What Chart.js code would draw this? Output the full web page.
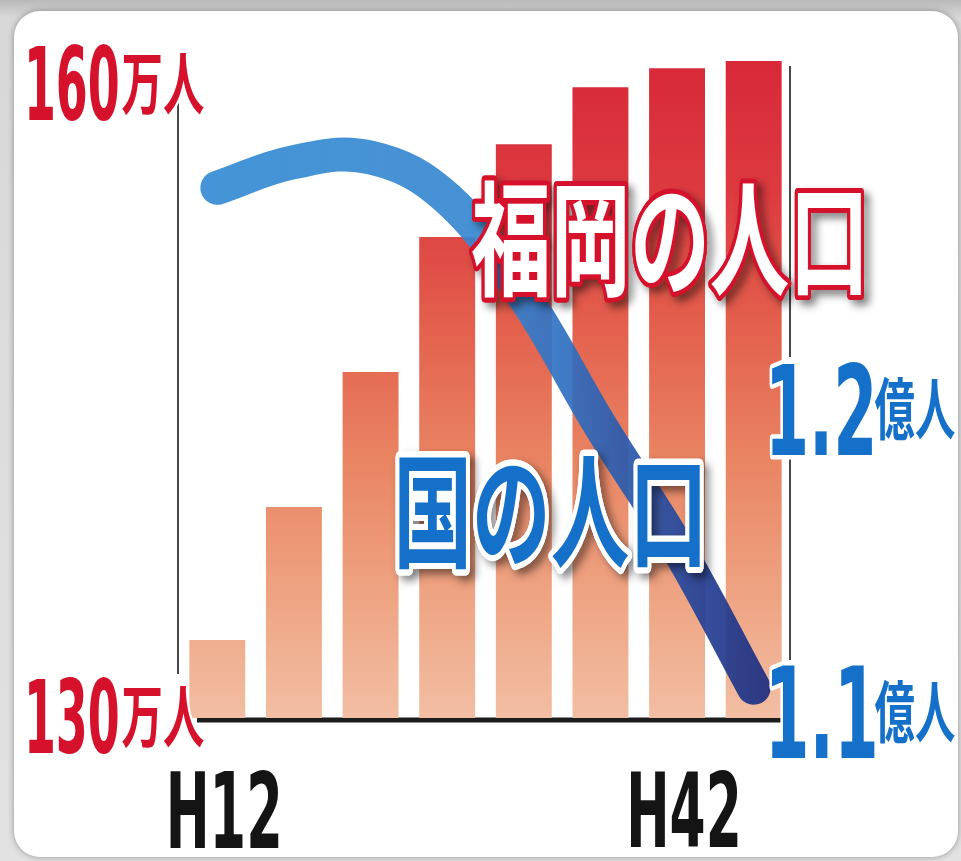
<!DOCTYPE html>
<html lang="ja">
<head>
    <meta charset="UTF-8">
    <title>福岡の人口と国の人口</title>
    <style>
        html, body {
            margin: 0;
            padding: 0;
        }
        body {
            width: 961px;
            height: 861px;
            overflow: hidden;
            position: relative;
            background: linear-gradient(#b9b9b9, #d8d8d8 2%, #e2e2e2);
        }
        /* white rounded card behind the chart */
        .card {
            position: absolute;
            left: 14px;
            top: 11px;
            width: 944px;
            height: 846px;
            background: #ffffff;
            border-radius: 26px;
            box-shadow: 0 0 6px rgba(0, 0, 0, 0.35);
        }
        .chart-box {
            position: absolute;
            left: 0;
            top: 0;
            width: 961px;
            height: 861px;
        }
    </style>
</head>
<body>
    <div class="card"></div>
    <div class="chart-box"><canvas id="popChart"></canvas></div>

    <script src="https://cdn.jsdelivr.net/npm/chart.js"></script>
    <script>
        // data
        const years = ['H12', 'H17', 'H22', 'H27', 'H32', 'H37', 'H42', 'H47'];
        const shownYears = ['H12', 'H42'];
        const fukuokaPop = [133.7, 140.0, 146.4, 152.8, 157.2, 159.9, 160.8, 161.15]; // 万人
        const japanPop = [1.273, 1.2815, 1.283, 1.2696, 1.2373, 1.1944, 1.1545, 1.108]; // 億人
        const leftTicks = [160, 130];
        const rightTicks = [1.2, 1.1];

        const RED = '#d5112b';
        const BLUE = '#1470c8';
        const CJK = "'Noto Sans CJK JP', 'Noto Sans CJK SC', sans-serif";
        const NUM = "'Liberation Sans Narrow', 'DejaVu Sans Condensed', 'Liberation Sans', sans-serif";

        // measure text at 100px and return its ink box
        function inkBox(ctx, text, font) {
            ctx.font = 'bold 100px ' + font;
            const m = ctx.measureText(text);
            return {
                l: m.actualBoundingBoxLeft,
                a: m.actualBoundingBoxAscent,
                w: m.actualBoundingBoxLeft + m.actualBoundingBoxRight,
                h: m.actualBoundingBoxAscent + m.actualBoundingBoxDescent
            };
        }

        // draw text so its ink fills the box (x, y, w, h); w may be null -> use cond ratio
        function fitText(ctx, text, x, y, w, h, font, opts) {
            ctx.save();
            ctx.textAlign = 'left';
            ctx.textBaseline = 'alphabetic';
            const b = inkBox(ctx, text, font);
            const sy = h / b.h;
            const sx = w ? w / b.w : sy * opts.cond;
            let left = x;
            if (opts.center) left = x - (b.w * sx) / 2;
            ctx.translate(left + b.l * sx, y + b.a * sy);
            ctx.scale(sx, sy);
            ctx.lineJoin = 'round';
            const k = (sx + sy) / 2;
            if (opts.shadow) {
                ctx.save();
                ctx.shadowColor = opts.shadow;
                ctx.shadowBlur = 9;
                ctx.shadowOffsetX = 5;
                ctx.shadowOffsetY = 5;
                ctx.strokeStyle = opts.stroke;
                ctx.lineWidth = opts.strokeWidth / k;
                ctx.strokeText(text, 0, 0);
                ctx.restore();
            }
            if (opts.stroke) {
                ctx.strokeStyle = opts.stroke;
                ctx.lineWidth = opts.strokeWidth / k;
                ctx.strokeText(text, 0, 0);
            }
            ctx.fillStyle = opts.fill;
            ctx.fillText(text, 0, 0);
            ctx.restore();
        }

        function condFor(ctx, text, font, w, h) {
            const b = inkBox(ctx, text, font);
            return (w / b.w) / (h / b.h);
        }

        // vertical red -> peach gradient shared by all bars
        function barGradient(context) {
            const chart = context.chart;
            const area = chart.chartArea;
            if (!area) return '#e56a50';
            const g = chart.ctx.createLinearGradient(0, area.top, 0, area.bottom);
            g.addColorStop(0.00, '#d72638');
            g.addColorStop(0.22, '#dd3a40');
            g.addColorStop(0.42, '#e3604d');
            g.addColorStop(0.62, '#e98563');
            g.addColorStop(0.82, '#eea483');
            g.addColorStop(1.00, '#f2bea3');
            return g;
        }

        // light blue -> navy along the line
        function lineGradient(context) {
            const chart = context.chart;
            const area = chart.chartArea;
            if (!area) return '#3a8fd5';
            const g = chart.ctx.createLinearGradient(area.left, 0, area.right, 0);
            g.addColorStop(0.00, 'rgba(58, 143, 213, 0.95)');
            g.addColorStop(0.50, 'rgba(55, 135, 208, 0.92)');
            g.addColorStop(0.60, 'rgba(50, 118, 198, 0.92)');
            g.addColorStop(0.70, 'rgba(44, 96, 178, 0.92)');
            g.addColorStop(0.85, 'rgba(38, 66, 150, 0.93)');
            g.addColorStop(1.00, 'rgba(32, 42, 120, 0.95)');
            return g;
        }

        const axisLines = {
            id: 'axisLines',
            beforeDatasetsDraw(chart) {
                const ctx = chart.ctx;
                const a = chart.chartArea;
                ctx.save();
                ctx.strokeStyle = '#1c1c1c';
                ctx.lineWidth = 1.6;
                ctx.beginPath();
                ctx.moveTo(a.left - 1, 102);
                ctx.lineTo(a.left - 1, a.bottom - 44);
                ctx.moveTo(a.right - 2, 66);
                ctx.lineTo(a.right - 2, 357);
                ctx.moveTo(a.right - 2, 458);
                ctx.lineTo(a.right - 2, a.bottom - 58);
                ctx.stroke();
                ctx.lineWidth = 5;
                ctx.beginPath();
                ctx.moveTo(a.left + 18, a.bottom + 2);
                ctx.lineTo(a.right - 9, a.bottom + 2);
                ctx.stroke();
                ctx.restore();
            }
        };

        const labelsPlugin = {
            id: 'labelsPlugin',
            afterDraw(chart) {
                const ctx = chart.ctx;
                const y = chart.scales.y;
                const y2 = chart.scales.y2;
                const x = chart.scales.x;

                // left axis: 160万人 / 130万人
                const numCond = condFor(ctx, '160', NUM, 89, 77);
                leftTicks.forEach(v => {
                    const py = y.getPixelForValue(v);
                    fitText(ctx, String(v), 29, py - 41, null, 77, NUM,
                        { fill: RED, stroke: '#fff', strokeWidth: 5, cond: numCond });
                    fitText(ctx, '万人', 122, py - 32, 82, 63, CJK,
                        { fill: RED, stroke: '#fff', strokeWidth: 5 });
                });

                // right axis: 1.2億人 / 1.1億人
                const rCond = condFor(ctx, '1.2', NUM, 100, 92);
                rightTicks.forEach(v => {
                    const py = y2.getPixelForValue(v);
                    fitText(ctx, v.toFixed(1), 772, py - 46, null, 92, NUM,
                        { fill: BLUE, stroke: '#fff', strokeWidth: 7, cond: rCond });
                    fitText(ctx, '億人', 875, py - 32, 80, 64, CJK,
                        { fill: BLUE, stroke: '#fff', strokeWidth: 5 });
                });

                // x labels
                const xCond = condFor(ctx, 'H12', NUM, 108, 78);
                shownYears.forEach(lab => {
                    const px = x.getPixelForValue(years.indexOf(lab));
                    fitText(ctx, lab, px + 7, 770, null, 78, NUM,
                        { fill: '#141414', cond: xCond, center: true });
                });

                // big titles
                fitText(ctx, '福岡の人口', 472, 179, 389, 119, CJK,
                    { fill: '#ffffff', stroke: RED, strokeWidth: 8, shadow: 'rgba(0,0,0,0.55)' });
                fitText(ctx, '国の人口', 399, 455, 301, 115, CJK,
                    { fill: BLUE, stroke: '#ffffff', strokeWidth: 10, shadow: 'rgba(0,0,0,0.5)' });
            }
        };

        const ctx = document.getElementById('popChart').getContext('2d');
        const popChart = new Chart(ctx, {
            data: {
                labels: years,
                datasets: [
                    {
                        type: 'line',
                        label: '国の人口',
                        data: japanPop,
                        yAxisID: 'y2',
                        borderColor: lineGradient,
                        borderWidth: 34,
                        borderCapStyle: 'round',
                        borderJoinStyle: 'round',
                        pointRadius: 0,
                        tension: 0.4,
                        fill: false,
                        order: 0
                    },
                    {
                        type: 'bar',
                        label: '福岡の人口',
                        data: fukuokaPop,
                        yAxisID: 'y',
                        backgroundColor: barGradient,
                        borderWidth: 0,
                        barPercentage: 0.73,
                        categoryPercentage: 1.0,
                        order: 1
                    }
                ]
            },
            options: {
                responsive: true,
                maintainAspectRatio: false,
                animation: false,
                layout: {
                    padding: { left: 179, right: 169, top: 43, bottom: 143 }
                },
                plugins: {
                    legend: { display: false },
                    tooltip: { enabled: false }
                },
                scales: {
                    x: { display: false, offset: true },
                    y: { display: false, min: 130, max: 162 },
                    y2: { display: false, position: 'right', min: 1.098, max: 1.3208 }
                }
            },
            plugins: [axisLines, labelsPlugin]
        });
    </script>
</body>
</html>
